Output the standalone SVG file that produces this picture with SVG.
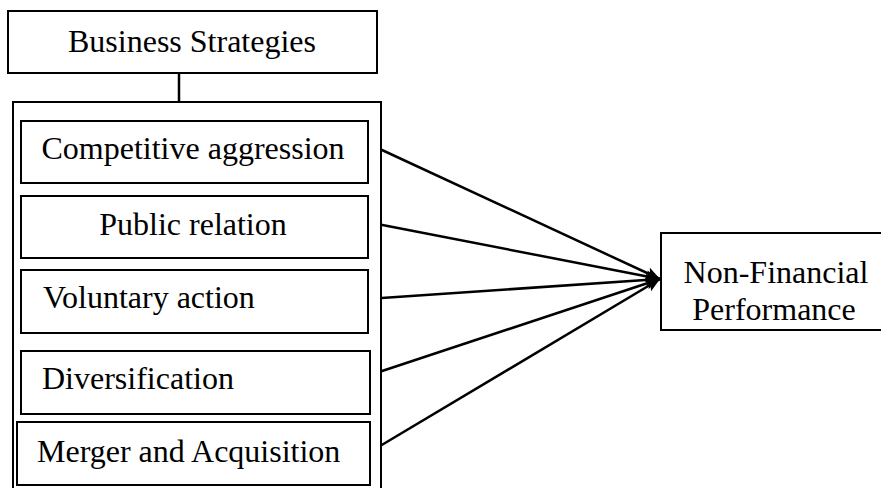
<svg xmlns="http://www.w3.org/2000/svg" width="881" height="488" viewBox="0 0 881 488">
<defs>
<style>
.box{fill:#fff;stroke:#000;stroke-width:2}
.t{font-family:"Liberation Serif","Times New Roman",serif;font-size:32px;fill:#000}
.c{text-anchor:middle}
.ln{stroke:#000;stroke-width:2.5;fill:none}
</style>
<marker id="ah" viewBox="0 0 14 12" refX="14" refY="6" markerWidth="14" markerHeight="12" markerUnits="userSpaceOnUse" orient="auto">
<path d="M0,0 L14,6 L0,12 L3,6 z" fill="#000"/>
</marker>
</defs>
<g id="connectors">
<line class="ln" x1="179" y1="73" x2="179" y2="102"/>
<line class="ln" x1="369" y1="144" x2="660" y2="279" marker-end="url(#ah)"/>
<line class="ln" x1="367" y1="222" x2="660" y2="279" marker-end="url(#ah)"/>
<line class="ln" x1="367" y1="299" x2="660" y2="279" marker-end="url(#ah)"/>
<line class="ln" x1="370" y1="375" x2="660" y2="279" marker-end="url(#ah)"/>
<line class="ln" x1="370" y1="452" x2="660" y2="279" marker-end="url(#ah)"/>
</g>
<g id="business-strategies">
<rect class="box" x="8" y="11" width="369" height="62"/>
<text class="t c" x="192" y="52">Business Strategies</text>
</g>
<g id="strategies-group">
<rect class="box" x="13" y="102" width="368" height="400" fill="none"/>
</g>
<g id="competitive-aggression">
<rect class="box" x="21" y="121" width="347" height="62"/>
<text class="t c" x="193" y="159">Competitive aggression</text>
</g>
<g id="public-relation">
<rect class="box" x="21" y="196" width="347" height="62"/>
<text class="t c" x="193" y="235">Public relation</text>
</g>
<g id="voluntary-action">
<rect class="box" x="21" y="270" width="347" height="63"/>
<text class="t" x="43" y="308">Voluntary action</text>
</g>
<g id="diversification">
<rect class="box" x="21" y="351" width="349" height="63"/>
<text class="t" x="42" y="389">Diversification</text>
</g>
<g id="merger-acquisition">
<rect class="box" x="17" y="422" width="353" height="63"/>
<text class="t" x="37" y="462">Merger and Acquisition</text>
</g>
<g id="non-financial-performance">
<rect class="box" x="661" y="233" width="240" height="97"/>
<text class="t c" x="776" y="283">Non-Financial</text>
<text class="t c" x="774" y="320">Performance</text>
</g>
</svg>
